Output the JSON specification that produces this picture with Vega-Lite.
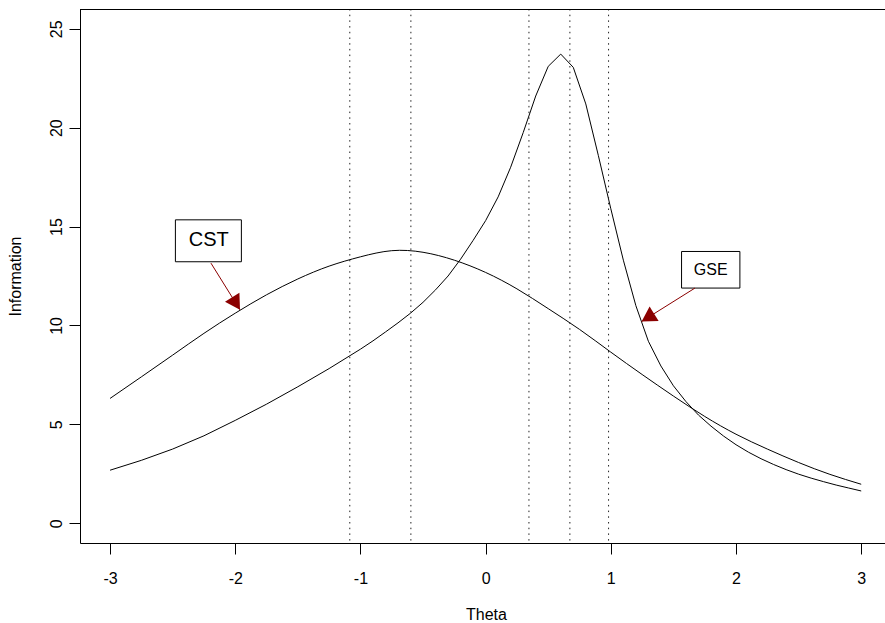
{
  "$schema": "https://vega.github.io/schema/vega-lite/v6.json",
  "width": 805,
  "height": 534,
  "autosize": {"type": "none"},
  "padding": {"left": 80, "top": 9, "right": 0, "bottom": 80},
  "background": "white",
  "config": {
    "view": {"stroke": null},
    "font": "Liberation Sans",
    "axis": {
      "grid": false,
      "domainColor": "black",
      "tickColor": "black",
      "labelColor": "black",
      "titleColor": "black",
      "labelFont": "Liberation Sans",
      "titleFont": "Liberation Sans",
      "labelFontSize": 16,
      "titleFontSize": 16,
      "titleFontWeight": "normal",
      "tickSize": 11,
      "labelFlush": false,
      "labelOverlap": false
    }
  },
  "datasets": {
    "cst": [
      {"theta": -3.0, "info": 6.31}, {"theta": -2.75, "info": 7.4}, {"theta": -2.5, "info": 8.5},
      {"theta": -2.25, "info": 9.6}, {"theta": -2.0, "info": 10.62}, {"theta": -1.75, "info": 11.55},
      {"theta": -1.5, "info": 12.35}, {"theta": -1.25, "info": 13.0}, {"theta": -1.0, "info": 13.47},
      {"theta": -0.75, "info": 13.78}, {"theta": -0.5, "info": 13.7}, {"theta": -0.25, "info": 13.3},
      {"theta": 0.0, "info": 12.68}, {"theta": 0.25, "info": 11.85}, {"theta": 0.5, "info": 10.85},
      {"theta": 0.75, "info": 9.8}, {"theta": 1.0, "info": 8.65}, {"theta": 1.25, "info": 7.52},
      {"theta": 1.5, "info": 6.43}, {"theta": 1.75, "info": 5.4}, {"theta": 2.0, "info": 4.5},
      {"theta": 2.25, "info": 3.75}, {"theta": 2.5, "info": 3.07}, {"theta": 2.75, "info": 2.47},
      {"theta": 3.0, "info": 1.97}
    ],
    "gse": [
      {"theta": -3.0, "info": 2.68}, {"theta": -2.75, "info": 3.18}, {"theta": -2.5, "info": 3.75},
      {"theta": -2.25, "info": 4.42}, {"theta": -2.0, "info": 5.2}, {"theta": -1.75, "info": 6.02},
      {"theta": -1.5, "info": 6.9}, {"theta": -1.25, "info": 7.82}, {"theta": -1.0, "info": 8.8},
      {"theta": -0.9, "info": 9.22}, {"theta": -0.8, "info": 9.67}, {"theta": -0.7, "info": 10.13},
      {"theta": -0.6, "info": 10.62}, {"theta": -0.5, "info": 11.17}, {"theta": -0.4, "info": 11.8},
      {"theta": -0.3, "info": 12.5}, {"theta": -0.2, "info": 13.35}, {"theta": -0.1, "info": 14.3},
      {"theta": 0.0, "info": 15.3}, {"theta": 0.1, "info": 16.5}, {"theta": 0.2, "info": 18.0},
      {"theta": 0.3, "info": 19.75}, {"theta": 0.4, "info": 21.6}, {"theta": 0.5, "info": 23.1},
      {"theta": 0.6, "info": 23.72}, {"theta": 0.7, "info": 23.05}, {"theta": 0.8, "info": 21.2},
      {"theta": 0.9, "info": 18.6}, {"theta": 1.0, "info": 15.9}, {"theta": 1.1, "info": 13.3},
      {"theta": 1.2, "info": 11.0}, {"theta": 1.3, "info": 9.2}, {"theta": 1.4, "info": 7.95},
      {"theta": 1.5, "info": 6.95}, {"theta": 1.6, "info": 6.15}, {"theta": 1.7, "info": 5.47},
      {"theta": 1.8, "info": 4.91}, {"theta": 1.9, "info": 4.41}, {"theta": 2.0, "info": 3.97},
      {"theta": 2.1, "info": 3.59}, {"theta": 2.2, "info": 3.26}, {"theta": 2.3, "info": 2.97},
      {"theta": 2.4, "info": 2.71}, {"theta": 2.5, "info": 2.48}, {"theta": 2.6, "info": 2.28},
      {"theta": 2.7, "info": 2.1}, {"theta": 2.8, "info": 1.93}, {"theta": 2.9, "info": 1.78},
      {"theta": 3.0, "info": 1.63}
    ],
    "cuts": [
      {"theta": -1.085}, {"theta": -0.597}, {"theta": 0.346}, {"theta": 0.673}, {"theta": 0.982}
    ],
    "labels": [
      {"name": "CST", "x1": -2.478, "x2": -1.951, "y1": 13.22, "y2": 15.34, "tx": -2.212, "ty": 14.33,
       "ax": -2.194, "ay": 13.15, "hx": -1.962, "hy": 10.79},
      {"name": "GSE", "x1": 1.565, "x2": 2.031, "y1": 11.89, "y2": 13.74, "tx": 1.798, "ty": 12.82,
       "ax": 1.672, "ay": 11.89, "hx": 1.246, "hy": 10.2}
    ]
  },
  "layer": [
    {
      "data": {"name": "cst"},
      "mark": {"type": "line", "color": "black", "strokeWidth": 1, "interpolate": "natural"},
      "encoding": {
        "x": {
          "field": "theta", "type": "quantitative",
          "scale": {"domain": [-3.24, 3.19], "nice": false, "zero": false},
          "axis": {
            "values": [-3, -2, -1, 0, 1, 2, 3],
            "labelExpr": "'' + datum.value",
            "title": "Theta",
            "labelBaseline": "alphabetic",
            "labelPadding": 29,
            "titleX": 406,
            "titleY": 76,
            "titleAlign": "center",
            "titleBaseline": "alphabetic"
          }
        },
        "y": {
          "field": "info", "type": "quantitative",
          "scale": {"domain": [-1, 26], "nice": false, "zero": false},
          "axis": {
            "values": [0, 5, 10, 15, 20, 25],
            "title": "Information",
            "labelAngle": -90,
            "labelAlign": "center",
            "labelBaseline": "alphabetic",
            "labelPadding": 7.5,
            "titleAngle": -90,
            "titleX": -60,
            "titleY": 267,
            "titleAlign": "center",
            "titleBaseline": "alphabetic"
          }
        }
      }
    },
    {
      "data": {"name": "gse"},
      "mark": {"type": "line", "color": "black", "strokeWidth": 1},
      "encoding": {
        "x": {"field": "theta", "type": "quantitative"},
        "y": {"field": "info", "type": "quantitative"}
      }
    },
    {
      "data": {"name": "cuts"},
      "mark": {"type": "rule", "color": "#222", "strokeWidth": 1, "strokeDash": [1.5, 4.2]},
      "encoding": {"x": {"field": "theta", "type": "quantitative"}}
    },
    {
      "data": {"values": [{"top": 26}]},
      "mark": {"type": "rule", "color": "black", "strokeWidth": 1, "yOffset": 0.5},
      "encoding": {"y": {"field": "top", "type": "quantitative"}}
    },
    {
      "data": {"name": "labels"},
      "mark": {"type": "rect", "fill": "white", "stroke": "black", "strokeWidth": 1},
      "encoding": {
        "x": {"field": "x1", "type": "quantitative"},
        "x2": {"field": "x2"},
        "y": {"field": "y1", "type": "quantitative"},
        "y2": {"field": "y2"}
      }
    },
    {
      "data": {"name": "labels"},
      "transform": [{"filter": "datum.name === 'CST'"}],
      "mark": {"type": "text", "fontSize": 20, "font": "Liberation Sans", "color": "black", "align": "center", "baseline": "middle"},
      "encoding": {
        "x": {"field": "tx", "type": "quantitative"},
        "y": {"field": "ty", "type": "quantitative"},
        "text": {"field": "name"}
      }
    },
    {
      "data": {"name": "labels"},
      "transform": [{"filter": "datum.name === 'GSE'"}],
      "mark": {"type": "text", "fontSize": 16, "font": "Liberation Sans", "color": "black", "align": "center", "baseline": "middle"},
      "encoding": {
        "x": {"field": "tx", "type": "quantitative"},
        "y": {"field": "ty", "type": "quantitative"},
        "text": {"field": "name"}
      }
    },
    {
      "data": {"name": "labels"},
      "mark": {"type": "rule", "color": "#8B0000", "strokeWidth": 1},
      "encoding": {
        "x": {"field": "ax", "type": "quantitative"},
        "y": {"field": "ay", "type": "quantitative"},
        "x2": {"field": "hx"},
        "y2": {"field": "hy"}
      }
    },
    {
      "data": {"name": "labels"},
      "transform": [{"filter": "datum.name === 'CST'"}],
      "mark": {"type": "point", "shape": "M0,0 L-0.5,0.866 L0.5,0.866 Z", "size": 1156, "filled": true, "color": "#8B0000", "opacity": 1, "angle": 148},
      "encoding": {
        "x": {"field": "hx", "type": "quantitative"},
        "y": {"field": "hy", "type": "quantitative"}
      }
    },
    {
      "data": {"name": "labels"},
      "transform": [{"filter": "datum.name === 'GSE'"}],
      "mark": {"type": "point", "shape": "M0,0 L-0.5,0.866 L0.5,0.866 Z", "size": 1156, "filled": true, "color": "#8B0000", "opacity": 1, "angle": 238},
      "encoding": {
        "x": {"field": "hx", "type": "quantitative"},
        "y": {"field": "hy", "type": "quantitative"}
      }
    }
  ]
}
